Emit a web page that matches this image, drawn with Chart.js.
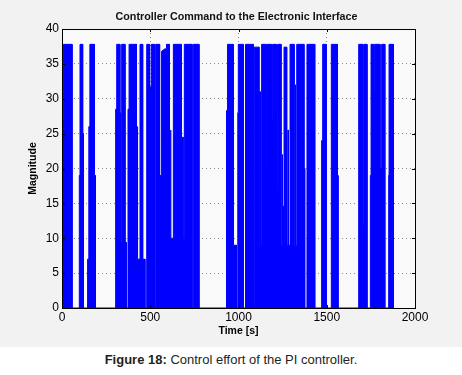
<!DOCTYPE html>
<html>
<head>
<meta charset="utf-8">
<script src="https://cdn.jsdelivr.net/npm/chart.js@4.4.0/dist/chart.umd.min.js"></script>
<style>
  html, body { margin: 0; padding: 0; background: #fff; }
  #figure { position: relative; width: 462px; height: 347px; background: #f2f2f2; }
  #caption { position: absolute; left: 0; top: 353px; width: 462px; text-align: center;
             font: 13px/13px "Liberation Sans", Arial, sans-serif; color: #231f20; }
</style>
</head>
<body>
<div id="figure"><canvas id="chart" width="462" height="347"></canvas></div>
<div id="caption"><b>Figure 18:</b> Control effort of the PI controller.</div>
<script>
// controller output (bursts of switching between 0 and ~37.8)
const timeS = [
  0, 0, 3, 3, 8, 8, 57, 57,
  98, 98, 102, 102, 117, 117, 121, 121,
  145, 145, 152, 152, 158, 158, 184, 184, 189, 189,
  302, 302, 305, 305, 310, 310, 328, 328, 331, 331, 333, 333, 338, 338, 357, 357, 364, 364,
  374, 374, 380, 380, 422, 422, 426, 426, 429, 429, 442, 442, 457, 457, 470, 470,
  480, 480, 495, 495, 505, 505, 525, 525, 531, 531, 553, 553, 561, 561, 566, 566, 580, 592,
  592, 608, 608, 614, 614, 617, 617, 631, 631, 676, 676, 683, 683, 686, 686, 693, 693,
  737, 737, 744, 744, 776, 776,
  930, 930, 933, 933, 938, 938, 970, 970, 988, 988, 996, 996, 999, 999, 1027, 1027, 1037, 1037, 1041, 1041, 1084, 1084,
  1090, 1090, 1116, 1116, 1121, 1121, 1124, 1124, 1131, 1131, 1154, 1154, 1159, 1159, 1187, 1187, 1193, 1193, 1213, 1213,
  1217, 1217, 1220, 1220, 1222, 1222, 1241, 1241, 1247, 1247, 1250, 1250, 1253, 1253, 1258, 1258, 1273, 1273, 1280, 1280,
  1283, 1283, 1292, 1292, 1315, 1315, 1321, 1321, 1324, 1324, 1330, 1330, 1371, 1371, 1375, 1375,
  1388, 1388, 1432, 1432,
  1471, 1471, 1477, 1477, 1497, 1497,
  1526, 1526, 1560, 1560, 1564, 1564,
  1681, 1681, 1703, 1703, 1709, 1709, 1728, 1728,
  1747, 1747, 1751, 1751, 1765, 1765, 1771, 1771, 1802, 1802, 1809, 1809, 1812, 1812, 1829, 1829,
  1851, 1851, 1853, 1853, 1876, 1876, 1879, 1879
];
const magnitude = [
  0, 9, 9, 27, 27, 37.8, 37.8, 0,
  0, 19, 19, 37.8, 37.8, 25, 25, 0,
  0, 7, 7, 26, 26, 37.8, 37.8, 19, 19, 0,
  0, 9.4, 9.4, 28.5, 28.5, 37.8, 37.8, 9.4, 9.4, 28, 28, 9.4, 9.4, 37.8, 37.8, 9.4, 9.4, 0,
  0, 28.5, 28.5, 37.8, 37.8, 7, 7, 26, 26, 7, 7, 37.8, 37.8, 7, 7, 0,
  0, 37.8, 37.8, 31.7, 31.7, 37.8, 37.8, 0, 0, 37.8, 37.8, 19, 19, 31.7, 31.7, 36.8, 37.1, 37.2,
  37.8, 37.8, 10, 10, 25.5, 25.5, 10, 10, 37.8, 37.8, 10, 10, 24.5, 24.5, 10, 10, 37.8,
  37.8, 0, 0, 37.8, 37.8, 0,
  0, 9.4, 9.4, 28.3, 28.3, 37.8, 37.8, 9, 9, 0, 0, 28, 28, 37.8, 37.8, 0, 0, 28, 28, 37.8, 37.8, 0,
  0, 37.4, 37.4, 9, 9, 31, 31, 9, 9, 37.8, 37.8, 20, 20, 37.8, 37.8, 27, 27, 37.8, 37.8, 9,
  9, 17, 17, 9, 9, 37.8, 37.8, 9, 9, 22, 22, 14.6, 14.6, 9, 9, 37.4, 37.4, 9, 9, 25.5,
  25.5, 9, 9, 37.8, 37.8, 9, 9, 32, 32, 9, 9, 37.8, 37.8, 20, 20, 0,
  0, 37.8, 37.8, 0,
  0, 24, 24, 37.8, 37.8, 0,
  0, 37.8, 37.8, 19, 19, 0,
  0, 37.8, 37.8, 12, 12, 37.8, 37.8, 0,
  0, 19, 19, 37.8, 37.8, 31, 31, 37.8, 37.8, 20, 20, 0, 0, 37.8, 37.8, 0,
  0, 19, 19, 37.8, 37.8, 19, 19, 0
];
const xTicks = [0, 500, 1000, 1500, 2000];
const yTicks = [0, 5, 10, 15, 20, 25, 30, 35, 40];

const titleText = 'Controller Command to the Electronic Interface';
const fontFamily = '"Liberation Sans", Arial, sans-serif';
Chart.defaults.font.family = fontFamily;
Chart.defaults.color = '#000';

const points = timeS.map((t, i) => ({ x: t, y: magnitude[i] }));

// axes background, box, inward ticks and the title
const figurePlugin = {
  id: 'figure',
  beforeDraw(chart) {
    const { ctx, chartArea: a } = chart;
    ctx.save();
    ctx.fillStyle = '#f9f9f9';
    ctx.fillRect(a.left, a.top, a.right - a.left, a.bottom - a.top);
    ctx.restore();
  },
  afterDatasetsDraw(chart) {
    const { ctx, chartArea: a, scales } = chart;
    ctx.save();
    ctx.strokeStyle = '#000';
    ctx.lineWidth = 1;
    ctx.strokeRect(a.left + 0.5, a.top + 0.5, a.right - a.left, a.bottom - a.top);
    ctx.beginPath();
    xTicks.forEach(v => {
      const px = Math.round(scales.x.getPixelForValue(v)) + 0.5;
      ctx.moveTo(px, a.bottom); ctx.lineTo(px, a.bottom - 3);
      ctx.moveTo(px, a.top); ctx.lineTo(px, a.top + 3);
    });
    yTicks.forEach(v => {
      const py = Math.round(scales.y.getPixelForValue(v)) + 0.5;
      ctx.moveTo(a.left, py); ctx.lineTo(a.left + 3, py);
      ctx.moveTo(a.right, py); ctx.lineTo(a.right - 3, py);
    });
    ctx.stroke();
    ctx.fillStyle = '#111';
    ctx.font = 'bold 10.75px ' + fontFamily;
    ctx.textAlign = 'center';
    ctx.textBaseline = 'alphabetic';
    ctx.fillText(titleText, 236.5, 20.3);
    ctx.restore();
  }
};

new Chart(document.getElementById('chart'), {
  type: 'line',
  data: {
    datasets: [{
      data: points,
      borderColor: '#0000ff',
      backgroundColor: '#0000ff',
      borderWidth: 1,
      fill: 'origin',
      pointRadius: 0,
      tension: 0
    }]
  },
  options: {
    responsive: false,
    animation: false,
    devicePixelRatio: 1,
    layout: { padding: { left: 0, right: 47, top: 29, bottom: 0 } },
    plugins: { legend: { display: false }, tooltip: { enabled: false }, title: { display: false } },
    scales: {
      x: {
        type: 'linear', min: 0, max: 2000,
        afterBuildTicks: s => { s.ticks = xTicks.map(v => ({ value: v })); },
        afterFit: s => { s.height = 39; },
        ticks: { font: { size: 12 }, padding: 2, maxRotation: 0, color: '#000', callback: v => String(v) },
        grid: { color: '#8c8c8c', drawTicks: false, lineWidth: 1 },
        border: { display: false, dash: [1, 3] },
        title: { display: true, text: 'Time [s]', font: { size: 10.5, weight: 'bold' }, padding: { top: 0, bottom: 9.7 } }
      },
      y: {
        min: 0, max: 40,
        afterBuildTicks: s => { s.ticks = yTicks.map(v => ({ value: v })); },
        afterFit: s => { s.width = 62; },
        ticks: { font: { size: 12 }, padding: 3, color: '#000', callback: v => String(v) },
        grid: { color: '#8c8c8c', drawTicks: false, lineWidth: 1 },
        border: { display: false, dash: [1, 3] },
        title: { display: true, text: 'Magnitude', font: { size: 10.5, weight: 'bold' }, padding: { top: 26.7, bottom: 0 } }
      }
    }
  },
  plugins: [figurePlugin]
});
</script>
</body>
</html>
